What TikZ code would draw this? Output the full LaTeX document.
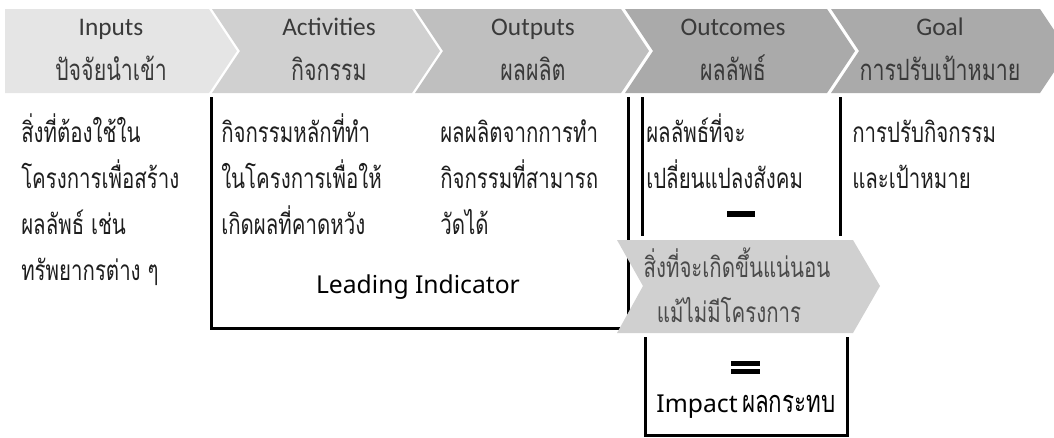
\documentclass[tikz,border=0pt]{standalone}
\usepackage{fontspec}
\newfontfamily\thai[Script=Thai,FakeStretch=0.73]{Loma}
\newfontfamily\thaiplain[Script=Thai]{Loma}
\newfontfamily\hdr{Carlito}
\newfontfamily\nsans{Noto Sans}
\definecolor{cin}{HTML}{E5E5E5}
\definecolor{cact}{HTML}{D0D0D0}
\definecolor{cout}{HTML}{BFBFBF}
\definecolor{ccome}{HTML}{AAAAAA}
\definecolor{cgoal}{HTML}{AAAAAA}
\definecolor{cmid}{HTML}{D0D0D0}
\definecolor{hdrtext}{HTML}{3A3A3A}
\definecolor{bodytext}{HTML}{1E1E1E}
\definecolor{midtext}{HTML}{4A4A4A}
\tikzset{
  hen/.style={font=\hdr\fontsize{19}{22}\selectfont, text=hdrtext, anchor=base, inner sep=0pt},
  hth/.style={font=\thai\fontsize{22}{24}\selectfont, text=hdrtext, anchor=base, inner sep=0pt},
  bodytxt/.style={font=\thai\fontsize{21}{24}\selectfont, text=bodytext, anchor=base west, inner sep=0pt},
  midtxt/.style={font=\thai\fontsize{21}{24}\selectfont, text=midtext, anchor=base, inner sep=0pt},
  frame/.style={line width=2.25pt, draw=black},
  bar/.style={fill=black, draw=none},
}
\newcommand\stk[1]{\vtop{\baselineskip=34.5pt\lineskiplimit=-20pt\lineskip=0pt #1}}
\begin{document}
\begin{tikzpicture}[x=0.75pt,y=-0.75pt]
\useasboundingbox (0,0) rectangle (1054,437);
\begin{scope}
\clip (0,0) rectangle (1054,437);
% header chevrons
\fill[cin]   (5,9)--(209,9)--(237,51)--(209,93)--(5,93)--cycle;
\fill[cact]  (212,9)--(412,9)--(440,51)--(412,93)--(212,93)--(240,51)--cycle;
\fill[cout]  (415,9)--(621,9)--(649,51)--(621,93)--(415,93)--(443,51)--cycle;
\fill[ccome] (625,9)--(827,9)--(855,51)--(827,93)--(625,93)--(653,51)--cycle;
\fill[cgoal] (831,9)--(1040,9)--(1068,51)--(1040,93)--(831,93)--(859,51)--cycle;
\end{scope}
% header texts
\node[hen] (hin)  at (111,35) {Inputs};
\node[hth] (thin) at (111,80) {ปัจจัยนำเข้า};
\node[hen] (hact) at (329,35) {Activities};
\node[hth] (thact) at (329,80) {กิจกรรม};
\node[hen] (hout) at (533,35) {Outputs};
\node[hth] (thout) at (533,80) {ผลผลิต};
\node[hen] (hcome) at (733,35) {Outcomes};
\node[hth] (thcome) at (733,80) {ผลลัพธ์};
\node[hen] (hgoal) at (940,35) {Goal};
\node[hth] (thgoal) at (940,80) {การปรับเป้าหมาย};
% frames
\draw[frame] (211,97)--(211,328)--(628,328)--(628,97);
\draw[frame] (642,97)--(642,236);
\draw[frame] (840,97)--(840,236);
\draw[frame] (645,337)--(645,435)--(847,435)--(847,337);
% middle chevron
\fill[cmid] (617,240)--(853,240)--(880,286)--(853,333)--(617,333)--(643,286)--cycle;
% body texts
\node[bodytxt] (b1) at (21,142) {\stk{\hbox{สิ่งที่ต้องใช้ใน}\hbox{โครงการเพื่อสร้าง}\hbox{ผลลัพธ์ เช่น}\hbox{ทรัพยากรต่าง ๆ}}};
\node[bodytxt] (b2) at (221,142) {\stk{\hbox{กิจกรรมหลักที่ทำ}\hbox{ในโครงการเพื่อให้}\hbox{เกิดผลที่คาดหวัง}}};
\node[bodytxt] (b3) at (440,142) {\stk{\hbox{ผลผลิตจากการทำ}\hbox{กิจกรรมที่สามารถ}\hbox{วัดได้}}};
\node[bodytxt] (b4) at (646,142) {\stk{\hbox{ผลลัพธ์ที่จะ}\hbox{เปลี่ยนแปลงสังคม}}};
\node[bodytxt] (b5) at (852,142) {\stk{\hbox{การปรับกิจกรรม}\hbox{และเป้าหมาย}}};
\node[font=\nsans\fontsize{18.5}{22}\selectfont, anchor=base, inner sep=0pt] (lead) at (418,293) {Leading Indicator};
\node[midtxt] (m1) at (737,277) {สิ่งที่จะเกิดขึ้นแน่นอน};
\node[midtxt] (m2) at (729,322) {แม้ไม่มีโครงการ};
% minus and equals
\fill[bar] (727,211) rectangle (755,217);
\fill[bar] (731,361) rectangle (760,366);
\fill[bar] (731,369) rectangle (760,374);
\node[anchor=base, inner sep=0pt, text=black] (imp) at (746,412) {{\nsans\fontsize{18.5}{22}\selectfont Impact} {\thai\fontsize{23}{24}\selectfont ผลกระทบ}};
\end{tikzpicture}
\end{document}
